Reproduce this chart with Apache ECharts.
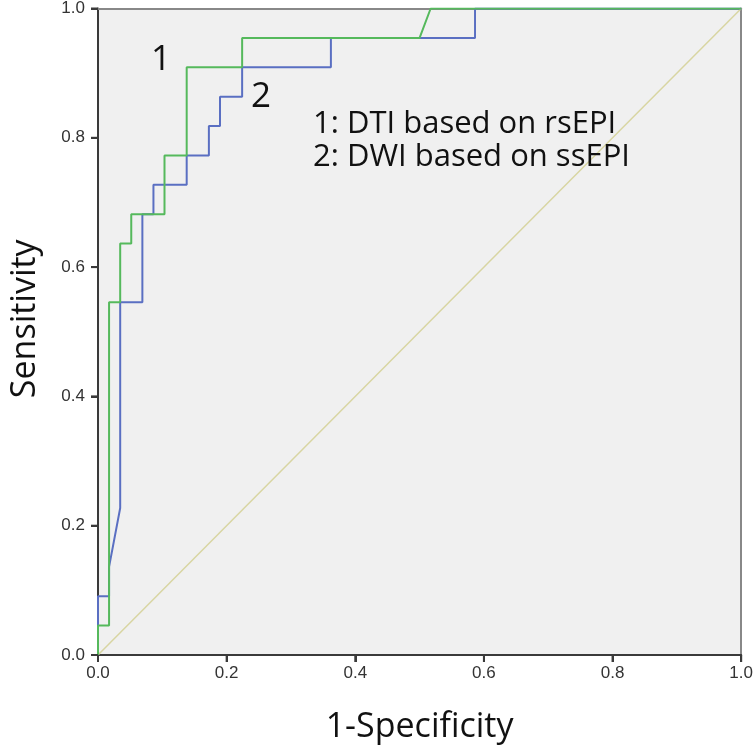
<!DOCTYPE html>
<html>
<head>
<meta charset="utf-8">
<script src="https://cdn.jsdelivr.net/npm/echarts@6/dist/echarts.min.js"></script>
<style>html,body{margin:0;padding:0;background:#fff}#c{width:756px;height:749px}</style>
</head>
<body>
<div id="c"></div>
<script>
// Curve 1: DTI based on rsEPI (1-Specificity, Sensitivity)
const curve1X = [0, 0, 0.0172, 0.0172, 0.0345, 0.0345, 0.0517, 0.0517, 0.1034, 0.1034, 0.1379, 0.1379, 0.2241, 0.2241, 0.5000, 0.5172, 1];
const curve1Y = [0, 0.0455, 0.0455, 0.5455, 0.5455, 0.6364, 0.6364, 0.6818, 0.6818, 0.7727, 0.7727, 0.9091, 0.9091, 0.9545, 0.9545, 1, 1];
// Curve 2: DWI based on ssEPI
const curve2X = [0, 0, 0.0172, 0.0172, 0.0345, 0.0345, 0.0690, 0.0690, 0.0862, 0.0862, 0.1379, 0.1379, 0.1724, 0.1724, 0.1897, 0.1897, 0.2241, 0.2241, 0.3621, 0.3621, 0.5862, 0.5862, 1];
const curve2Y = [0, 0.0909, 0.0909, 0.1364, 0.2273, 0.5455, 0.5455, 0.6818, 0.6818, 0.7273, 0.7273, 0.7727, 0.7727, 0.8182, 0.8182, 0.8636, 0.8636, 0.9091, 0.9091, 0.9545, 0.9545, 1, 1];
// Reference line
const refX = [0, 1];
const refY = [0, 1];
// Tick values (both axes)
const tickValues = [0, 0.2, 0.4, 0.6, 0.8, 1.0];

const zip = (xs, ys) => xs.map((x, i) => [x, ys[i]]);
const chart = echarts.init(document.getElementById('c'));
const tickFont = {fontFamily: 'Liberation Sans, Arial, sans-serif', fontSize: 17, color: '#333'};
const nameFont = {fontFamily: '"Open Sans", "Noto Sans", sans-serif', fontSize: 34, color: '#111'};
const mainAxis = (extra) => Object.assign({
  type: 'value', min: 0, max: 1, interval: 0.2,
  axisLine: {show: true, lineStyle: {color: '#3a3a3a', width: 2}},
  axisTick: {show: true, length: 7, lineStyle: {color: '#3a3a3a', width: 2}},
  splitLine: {show: false},
  nameTextStyle: nameFont,
  nameLocation: 'middle'
}, extra);
const borderAxis = (extra) => Object.assign({
  type: 'value', min: 0, max: 1, interval: 0.2,
  axisLine: {show: true, onZero: false, lineStyle: {color: '#888', width: 2}},
  axisTick: {show: false}, axisLabel: {show: false}, splitLine: {show: false}
}, extra);
const fmt = v => v.toFixed(1);
const TICK_LEN = 7;
chart.setOption({
  animation: false,
  backgroundColor: '#fff',
  grid: {left: 96, right: 14, top: 8, bottom: 94, show: true, backgroundColor: '#f0f0f0', borderWidth: 0},
  xAxis: [
    mainAxis({position: 'bottom', name: '1-Specificity', nameGap: 55,
      axisLabel: Object.assign({margin: 10, formatter: fmt}, tickFont)}),
    borderAxis({position: 'top'})
  ],
  yAxis: [
    mainAxis({position: 'left', name: 'Sensitivity', nameGap: 56,
      nameTextStyle: Object.assign({padding: [0, 0, 0, 26]}, nameFont),
      axisLabel: Object.assign({margin: 13, formatter: fmt}, tickFont)}),
    borderAxis({position: 'right'})
  ],
  series: [
    {type: 'line', data: zip(refX, refY), symbol: 'none', lineStyle: {color: '#d8d5a2', width: 1.5}, z: 1},
    {type: 'line', name: '2', data: zip(curve2X, curve2Y), symbol: 'none', lineStyle: {color: '#5a6fc2', width: 2}, z: 2},
    {type: 'line', name: '1', data: zip(curve1X, curve1Y), symbol: 'none', lineStyle: {color: '#55b95c', width: 2}, z: 3},
    {
      type: 'custom', name: 'ticks', clip: false, silent: true, z: 5,
      data: tickValues.map(v => [v]),
      renderItem: (params, api) => {
        const v = api.value(0);
        const px = api.coord([v, 0]);
        const py = api.coord([0, v]);
        const st = {stroke: '#3a3a3a', lineWidth: 2};
        return {
          type: 'group',
          children: [
            {type: 'line', shape: {x1: px[0], y1: px[1], x2: px[0], y2: px[1] + TICK_LEN}, style: st},
            {type: 'line', shape: {x1: py[0] - TICK_LEN, y1: py[1], x2: py[0], y2: py[1]}, style: st}
          ]
        };
      }
    }
  ],
  graphic: [
    {type: 'text', z: 100, x: 151, y: 60, style: {text: '1', font: '35px "Open Sans", "Noto Sans", sans-serif', fill: '#111', verticalAlign: 'middle'}},
    {type: 'text', z: 100, x: 251, y: 97, style: {text: '2', font: '35px "Open Sans", "Noto Sans", sans-serif', fill: '#111', verticalAlign: 'middle'}},
    {type: 'text', z: 100, x: 313, y: 124, style: {text: '1: DTI based on rsEPI', font: '31px "Open Sans", "Noto Sans", sans-serif', fill: '#111', verticalAlign: 'middle'}},
    {type: 'text', z: 100, x: 313, y: 157, style: {text: '2: DWI based on ssEPI', font: '31px "Open Sans", "Noto Sans", sans-serif', fill: '#111', verticalAlign: 'middle'}}
  ]
});
</script>
</body>
</html>
